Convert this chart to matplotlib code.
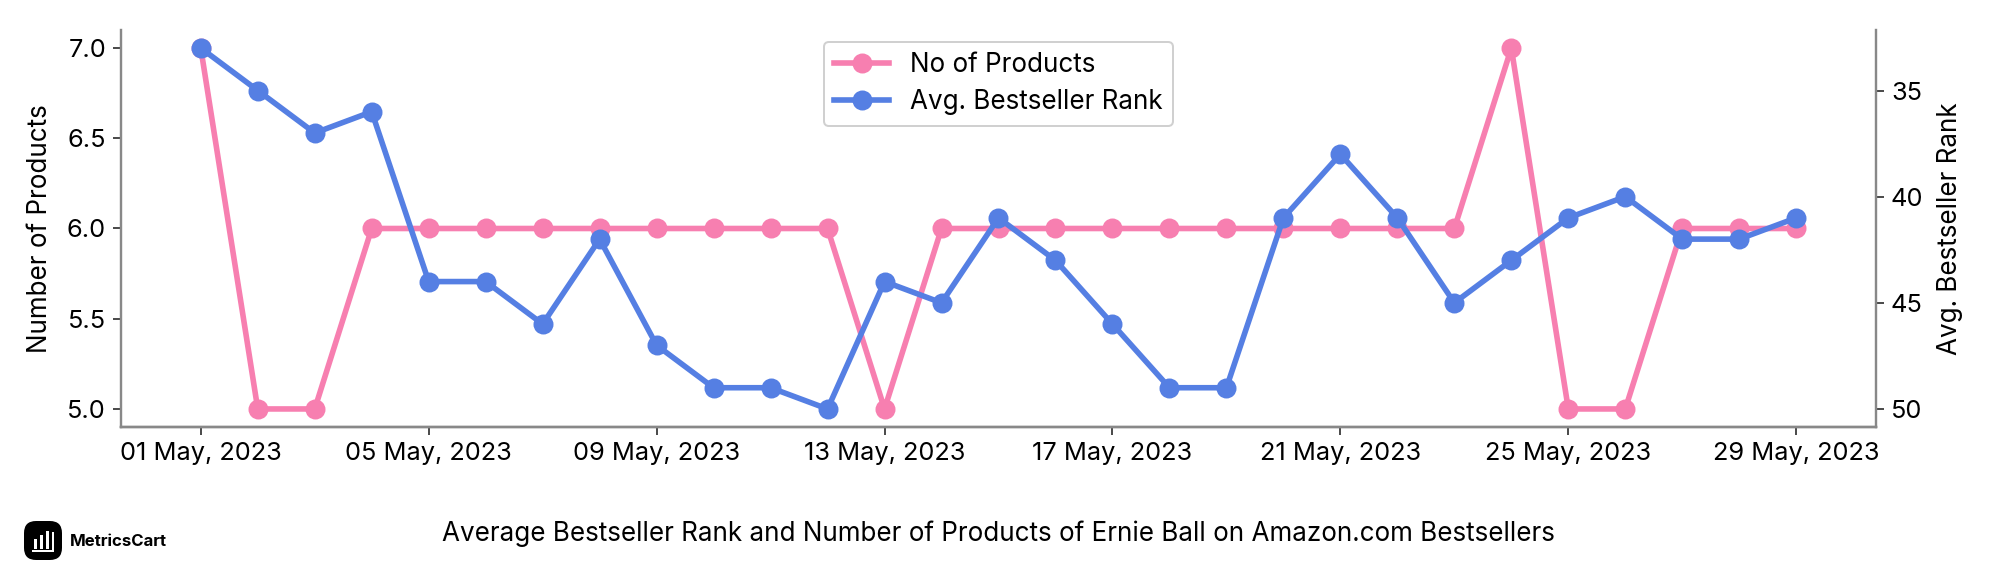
import matplotlib
matplotlib.use("Agg")
import matplotlib.pyplot as plt
from matplotlib.patches import FancyBboxPatch, Rectangle

plt.rcParams['font.family'] = ['Inter', 'DejaVu Sans']

dates = [f"{d:02d} May, 2023" for d in range(1, 30)]
products = [7, 5, 5, 6, 6, 6, 6, 6, 6, 6, 6, 6, 5, 6, 6, 6, 6, 6, 6, 6, 6, 6, 6, 7, 5, 5, 6, 6, 6]
ranks = [33, 35, 37, 36, 44, 44, 46, 42, 47, 49, 49, 50, 44, 45, 41, 43, 46, 49, 49, 41, 38, 41, 45, 43, 41, 40, 42, 42, 41]
product_ticks = [5.0, 5.5, 6.0, 6.5, 7.0]
rank_ticks = [35, 40, 45, 50]

PINK = '#f77fb0'
BLUE = '#557fe3'
W, H = 2016, 576

fig = plt.figure(figsize=(14, 4), dpi=144)
ax = fig.add_axes([121/W, 1-427/H, (1876-121)/W, (427-30)/H])
ax2 = ax.twinx()

line1, = ax.plot(dates, products, color=PINK, lw=2.8, marker='o', ms=9, label="No of Products")
line2, = ax2.plot(dates, ranks, color=BLUE, lw=2.8, marker='o', ms=9, label="Avg. Bestseller Rank")

ax.set_xticks(range(0, 29, 4))
ax.set_xticklabels(dates[::4])
ax.set_yticks(product_ticks)
ax.set_yticklabels([f"{v:.1f}" for v in product_ticks])
ax2.set_yticks(rank_ticks)
ax2.invert_yaxis()

ax.set_ylabel("Number of Products", fontsize=13, labelpad=7)
ax2.set_ylabel("Avg. Bestseller Rank", fontsize=13, labelpad=7)

for a in (ax, ax2):
    a.tick_params(labelsize=12.7, color='#222222', width=0.8, length=4)
    a.spines['top'].set_visible(False)
    for s in a.spines.values():
        s.set_color('#888888')
        s.set_linewidth(1.2)
ax.spines['right'].set_visible(False)
ax2.spines['left'].set_visible(False)

ax2.legend(handles=[line1, line2], loc='upper left', bbox_to_anchor=(824/W, 1-42/H),
           bbox_transform=fig.transFigure, fontsize=13, framealpha=1,
           edgecolor='#d0d0d0', borderaxespad=0, handlelength=2.1, labelspacing=0.42)

fig.text(998/W, 1-534/H, "Average Bestseller Rank and Number of Products of Ernie Ball on Amazon.com Bestsellers",
         ha='center', va='center', fontsize=13)

# logo
fig.add_artist(FancyBboxPatch((24/W, 1-560/H), 38/W, 39/H, boxstyle="round,pad=0,rounding_size=0.006",
                              transform=fig.transFigure, fc='black', ec='none',
                              mutation_aspect=W/H))
for bx, bh in [(34, 10), (40, 14), (46, 18)]:
    fig.add_artist(Rectangle((bx/W, 1-549/H), 2.5/W, bh/H, transform=fig.transFigure, fc='white', ec='none'))
fig.add_artist(Rectangle((32/W, 1-552/H), 22/W, 2/H, transform=fig.transFigure, fc='white', ec='none'))
fig.add_artist(Rectangle((52/W, 1-552/H), 2/W, 20/H, transform=fig.transFigure, fc='white', ec='none'))
fig.text(70/W, 1-542/H, "MetricsCart", ha='left', va='center', fontsize=8.4, fontweight='bold')

fig.savefig("out.png", dpi=144)
